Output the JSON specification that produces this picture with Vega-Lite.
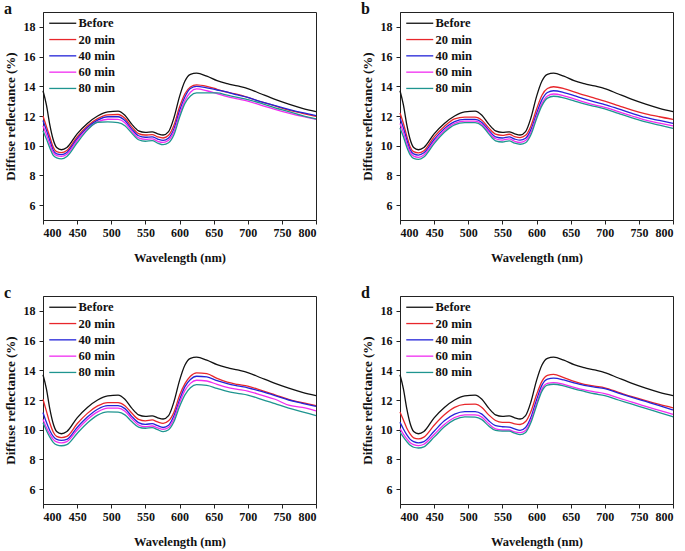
{
"$schema": "https://vega.github.io/schema/vega-lite/v6.json",
"padding": {"left": 3, "top": 0, "right": 2, "bottom": 2},
"background": "white",
"data": {"values": [
{"p":"a","w":400,"Before":13.7,"20 min":12.0,"40 min":11.7,"60 min":11.35,"80 min":11.0},
{"p":"a","w":405,"Before":12.75,"20 min":11.3,"40 min":11.05,"60 min":10.75,"80 min":10.45},
{"p":"a","w":410,"Before":11.4,"20 min":10.6,"40 min":10.35,"60 min":10.1,"80 min":9.85},
{"p":"a","w":415,"Before":10.4,"20 min":9.9,"40 min":9.7,"60 min":9.55,"80 min":9.35},
{"p":"a","w":420,"Before":9.88,"20 min":9.6,"40 min":9.45,"60 min":9.33,"80 min":9.18},
{"p":"a","w":427,"Before":9.73,"20 min":9.53,"40 min":9.4,"60 min":9.28,"80 min":9.12},
{"p":"a","w":435,"Before":9.88,"20 min":9.68,"40 min":9.55,"60 min":9.43,"80 min":9.28},
{"p":"a","w":450,"Before":10.8,"20 min":10.6,"40 min":10.47,"60 min":10.35,"80 min":10.2},
{"p":"a","w":465,"Before":11.5,"20 min":11.32,"40 min":11.22,"60 min":11.12,"80 min":11.05},
{"p":"a","w":480,"Before":12.0,"20 min":11.82,"40 min":11.72,"60 min":11.6,"80 min":11.58},
{"p":"a","w":495,"Before":12.28,"20 min":12.08,"40 min":11.95,"60 min":11.78,"80 min":11.6},
{"p":"a","w":510,"Before":12.33,"20 min":12.1,"40 min":11.95,"60 min":11.77,"80 min":11.55},
{"p":"a","w":520,"Before":12.05,"20 min":11.85,"40 min":11.7,"60 min":11.55,"80 min":11.35},
{"p":"a","w":530,"Before":11.45,"20 min":11.27,"40 min":11.12,"60 min":10.98,"80 min":10.85},
{"p":"a","w":540,"Before":11.0,"20 min":10.82,"40 min":10.67,"60 min":10.53,"80 min":10.4},
{"p":"a","w":550,"Before":10.9,"20 min":10.72,"40 min":10.57,"60 min":10.43,"80 min":10.3},
{"p":"a","w":560,"Before":10.93,"20 min":10.75,"40 min":10.6,"60 min":10.46,"80 min":10.34},
{"p":"a","w":568,"Before":10.8,"20 min":10.6,"40 min":10.45,"60 min":10.3,"80 min":10.18},
{"p":"a","w":576,"Before":10.72,"20 min":10.52,"40 min":10.36,"60 min":10.22,"80 min":10.07},
{"p":"a","w":584,"Before":10.95,"20 min":10.7,"40 min":10.52,"60 min":10.37,"80 min":10.2},
{"p":"a","w":592,"Before":11.9,"20 min":11.4,"40 min":11.15,"60 min":10.95,"80 min":10.75},
{"p":"a","w":600,"Before":13.3,"20 min":12.6,"40 min":12.35,"60 min":12.1,"80 min":11.9},
{"p":"a","w":608,"Before":14.35,"20 min":13.5,"40 min":13.3,"60 min":13.05,"80 min":12.85},
{"p":"a","w":616,"Before":14.8,"20 min":13.95,"40 min":13.85,"60 min":13.6,"80 min":13.35},
{"p":"a","w":625,"Before":14.88,"20 min":14.1,"40 min":14.0,"60 min":13.82,"80 min":13.55},
{"p":"a","w":640,"Before":14.68,"20 min":14.0,"40 min":13.9,"60 min":13.7,"80 min":13.55},
{"p":"a","w":655,"Before":14.38,"20 min":13.8,"40 min":13.75,"60 min":13.5,"80 min":13.55},
{"p":"a","w":670,"Before":14.18,"20 min":13.6,"40 min":13.6,"60 min":13.3,"80 min":13.4},
{"p":"a","w":685,"Before":14.02,"20 min":13.45,"40 min":13.42,"60 min":13.15,"80 min":13.25},
{"p":"a","w":700,"Before":13.85,"20 min":13.25,"40 min":13.25,"60 min":13.0,"80 min":13.1},
{"p":"a","w":720,"Before":13.48,"20 min":12.95,"40 min":12.95,"60 min":12.72,"80 min":12.85},
{"p":"a","w":740,"Before":13.12,"20 min":12.68,"40 min":12.7,"60 min":12.45,"80 min":12.55},
{"p":"a","w":760,"Before":12.8,"20 min":12.4,"40 min":12.45,"60 min":12.2,"80 min":12.3},
{"p":"a","w":780,"Before":12.52,"20 min":12.18,"40 min":12.22,"60 min":11.97,"80 min":12.02},
{"p":"a","w":800,"Before":12.3,"20 min":11.97,"40 min":12.02,"60 min":11.77,"80 min":11.8},
{"p":"b","w":400,"Before":13.7,"20 min":12.2,"40 min":11.85,"60 min":11.5,"80 min":11.2},
{"p":"b","w":405,"Before":12.75,"20 min":11.5,"40 min":11.2,"60 min":10.9,"80 min":10.6},
{"p":"b","w":410,"Before":11.4,"20 min":10.65,"40 min":10.4,"60 min":10.15,"80 min":9.9},
{"p":"b","w":415,"Before":10.4,"20 min":9.92,"40 min":9.72,"60 min":9.55,"80 min":9.38},
{"p":"b","w":420,"Before":9.88,"20 min":9.6,"40 min":9.45,"60 min":9.3,"80 min":9.15},
{"p":"b","w":427,"Before":9.73,"20 min":9.52,"40 min":9.37,"60 min":9.22,"80 min":9.08},
{"p":"b","w":435,"Before":9.88,"20 min":9.66,"40 min":9.52,"60 min":9.38,"80 min":9.24},
{"p":"b","w":450,"Before":10.8,"20 min":10.6,"40 min":10.42,"60 min":10.28,"80 min":10.14},
{"p":"b","w":465,"Before":11.5,"20 min":11.3,"40 min":11.15,"60 min":11.02,"80 min":10.9},
{"p":"b","w":480,"Before":12.0,"20 min":11.8,"40 min":11.62,"60 min":11.5,"80 min":11.4},
{"p":"b","w":495,"Before":12.28,"20 min":11.93,"40 min":11.77,"60 min":11.65,"80 min":11.55},
{"p":"b","w":510,"Before":12.33,"20 min":11.93,"40 min":11.77,"60 min":11.65,"80 min":11.55},
{"p":"b","w":520,"Before":12.05,"20 min":11.72,"40 min":11.57,"60 min":11.45,"80 min":11.35},
{"p":"b","w":530,"Before":11.45,"20 min":11.2,"40 min":11.05,"60 min":10.93,"80 min":10.8},
{"p":"b","w":540,"Before":11.0,"20 min":10.78,"40 min":10.6,"60 min":10.47,"80 min":10.33},
{"p":"b","w":550,"Before":10.9,"20 min":10.7,"40 min":10.52,"60 min":10.38,"80 min":10.25},
{"p":"b","w":560,"Before":10.93,"20 min":10.77,"40 min":10.59,"60 min":10.46,"80 min":10.32},
{"p":"b","w":568,"Before":10.8,"20 min":10.62,"40 min":10.45,"60 min":10.3,"80 min":10.17},
{"p":"b","w":576,"Before":10.72,"20 min":10.55,"40 min":10.37,"60 min":10.22,"80 min":10.1},
{"p":"b","w":584,"Before":10.95,"20 min":10.7,"40 min":10.5,"60 min":10.35,"80 min":10.2},
{"p":"b","w":592,"Before":11.9,"20 min":11.35,"40 min":11.1,"60 min":10.9,"80 min":10.75},
{"p":"b","w":600,"Before":13.3,"20 min":12.45,"40 min":12.15,"60 min":11.95,"80 min":11.8},
{"p":"b","w":608,"Before":14.35,"20 min":13.4,"40 min":13.1,"60 min":12.85,"80 min":12.7},
{"p":"b","w":616,"Before":14.8,"20 min":13.85,"40 min":13.58,"60 min":13.35,"80 min":13.2},
{"p":"b","w":625,"Before":14.88,"20 min":13.97,"40 min":13.7,"60 min":13.48,"80 min":13.33},
{"p":"b","w":640,"Before":14.68,"20 min":13.85,"40 min":13.58,"60 min":13.36,"80 min":13.22},
{"p":"b","w":655,"Before":14.38,"20 min":13.62,"40 min":13.37,"60 min":13.15,"80 min":13.02},
{"p":"b","w":670,"Before":14.18,"20 min":13.4,"40 min":13.15,"60 min":12.93,"80 min":12.82},
{"p":"b","w":685,"Before":14.02,"20 min":13.2,"40 min":12.95,"60 min":12.75,"80 min":12.65},
{"p":"b","w":700,"Before":13.85,"20 min":13.0,"40 min":12.77,"60 min":12.58,"80 min":12.48},
{"p":"b","w":720,"Before":13.48,"20 min":12.7,"40 min":12.48,"60 min":12.3,"80 min":12.18},
{"p":"b","w":740,"Before":13.12,"20 min":12.4,"40 min":12.18,"60 min":12.0,"80 min":11.88},
{"p":"b","w":760,"Before":12.8,"20 min":12.15,"40 min":11.9,"60 min":11.72,"80 min":11.6},
{"p":"b","w":780,"Before":12.52,"20 min":11.95,"40 min":11.7,"60 min":11.52,"80 min":11.38},
{"p":"b","w":800,"Before":12.3,"20 min":11.77,"40 min":11.5,"60 min":11.33,"80 min":11.17},
{"p":"c","w":400,"Before":13.7,"20 min":12.05,"40 min":11.15,"60 min":10.7,"80 min":10.47},
{"p":"c","w":405,"Before":12.75,"20 min":11.25,"40 min":10.5,"60 min":10.15,"80 min":9.95},
{"p":"c","w":410,"Before":11.4,"20 min":10.45,"40 min":9.95,"60 min":9.7,"80 min":9.5},
{"p":"c","w":415,"Before":10.4,"20 min":9.85,"40 min":9.55,"60 min":9.35,"80 min":9.15},
{"p":"c","w":420,"Before":9.88,"20 min":9.55,"40 min":9.35,"60 min":9.18,"80 min":8.98},
{"p":"c","w":427,"Before":9.73,"20 min":9.47,"40 min":9.28,"60 min":9.12,"80 min":8.92},
{"p":"c","w":435,"Before":9.88,"20 min":9.55,"40 min":9.35,"60 min":9.2,"80 min":9.0},
{"p":"c","w":450,"Before":10.8,"20 min":10.4,"40 min":10.15,"60 min":9.98,"80 min":9.75},
{"p":"c","w":465,"Before":11.5,"20 min":11.1,"40 min":10.85,"60 min":10.68,"80 min":10.45},
{"p":"c","w":480,"Before":12.0,"20 min":11.6,"40 min":11.38,"60 min":11.2,"80 min":10.98},
{"p":"c","w":495,"Before":12.28,"20 min":11.83,"40 min":11.62,"60 min":11.45,"80 min":11.2},
{"p":"c","w":510,"Before":12.33,"20 min":11.83,"40 min":11.62,"60 min":11.45,"80 min":11.18},
{"p":"c","w":520,"Before":12.05,"20 min":11.62,"40 min":11.42,"60 min":11.25,"80 min":11.0},
{"p":"c","w":530,"Before":11.45,"20 min":11.12,"40 min":10.9,"60 min":10.75,"80 min":10.55},
{"p":"c","w":540,"Before":11.0,"20 min":10.7,"40 min":10.48,"60 min":10.32,"80 min":10.18},
{"p":"c","w":550,"Before":10.9,"20 min":10.6,"40 min":10.36,"60 min":10.2,"80 min":10.1},
{"p":"c","w":560,"Before":10.93,"20 min":10.66,"40 min":10.41,"60 min":10.25,"80 min":10.14},
{"p":"c","w":568,"Before":10.8,"20 min":10.52,"40 min":10.27,"60 min":10.12,"80 min":10.0},
{"p":"c","w":576,"Before":10.72,"20 min":10.43,"40 min":10.15,"60 min":10.02,"80 min":9.87},
{"p":"c","w":584,"Before":10.95,"20 min":10.6,"40 min":10.3,"60 min":10.15,"80 min":10.0},
{"p":"c","w":592,"Before":11.9,"20 min":11.2,"40 min":10.95,"60 min":10.75,"80 min":10.55},
{"p":"c","w":600,"Before":13.3,"20 min":12.3,"40 min":12.0,"60 min":11.8,"80 min":11.55},
{"p":"c","w":608,"Before":14.35,"20 min":13.1,"40 min":12.9,"60 min":12.65,"80 min":12.35},
{"p":"c","w":616,"Before":14.8,"20 min":13.6,"40 min":13.38,"60 min":13.12,"80 min":12.82},
{"p":"c","w":625,"Before":14.88,"20 min":13.83,"40 min":13.6,"60 min":13.33,"80 min":13.03},
{"p":"c","w":640,"Before":14.68,"20 min":13.78,"40 min":13.55,"60 min":13.28,"80 min":12.98},
{"p":"c","w":655,"Before":14.38,"20 min":13.45,"40 min":13.3,"60 min":13.05,"80 min":12.78},
{"p":"c","w":670,"Before":14.18,"20 min":13.2,"40 min":13.1,"60 min":12.85,"80 min":12.58},
{"p":"c","w":685,"Before":14.02,"20 min":13.05,"40 min":12.95,"60 min":12.72,"80 min":12.45},
{"p":"c","w":700,"Before":13.85,"20 min":12.93,"40 min":12.82,"60 min":12.6,"80 min":12.33},
{"p":"c","w":720,"Before":13.48,"20 min":12.65,"40 min":12.58,"60 min":12.33,"80 min":12.05},
{"p":"c","w":740,"Before":13.12,"20 min":12.35,"40 min":12.3,"60 min":12.05,"80 min":11.75},
{"p":"c","w":760,"Before":12.8,"20 min":12.05,"40 min":12.0,"60 min":11.65,"80 min":11.45},
{"p":"c","w":780,"Before":12.52,"20 min":11.82,"40 min":11.78,"60 min":11.5,"80 min":11.2},
{"p":"c","w":800,"Before":12.3,"20 min":11.62,"40 min":11.57,"60 min":11.27,"80 min":10.95},
{"p":"d","w":400,"Before":13.7,"20 min":11.2,"40 min":10.5,"60 min":10.07,"80 min":9.84},
{"p":"d","w":405,"Before":12.75,"20 min":10.65,"40 min":10.05,"60 min":9.7,"80 min":9.5},
{"p":"d","w":410,"Before":11.4,"20 min":10.1,"40 min":9.65,"60 min":9.38,"80 min":9.2},
{"p":"d","w":415,"Before":10.4,"20 min":9.7,"40 min":9.35,"60 min":9.13,"80 min":8.95},
{"p":"d","w":420,"Before":9.88,"20 min":9.45,"40 min":9.2,"60 min":9.0,"80 min":8.82},
{"p":"d","w":427,"Before":9.73,"20 min":9.38,"40 min":9.12,"60 min":8.93,"80 min":8.77},
{"p":"d","w":435,"Before":9.88,"20 min":9.5,"40 min":9.2,"60 min":9.02,"80 min":8.85},
{"p":"d","w":450,"Before":10.8,"20 min":10.3,"40 min":9.9,"60 min":9.68,"80 min":9.5},
{"p":"d","w":465,"Before":11.5,"20 min":11.0,"40 min":10.6,"60 min":10.35,"80 min":10.2},
{"p":"d","w":480,"Before":12.0,"20 min":11.5,"40 min":11.05,"60 min":10.82,"80 min":10.68},
{"p":"d","w":495,"Before":12.28,"20 min":11.7,"40 min":11.22,"60 min":11.0,"80 min":10.87},
{"p":"d","w":510,"Before":12.33,"20 min":11.72,"40 min":11.22,"60 min":11.0,"80 min":10.85},
{"p":"d","w":520,"Before":12.05,"20 min":11.5,"40 min":11.05,"60 min":10.85,"80 min":10.68},
{"p":"d","w":530,"Before":11.45,"20 min":11.0,"40 min":10.6,"60 min":10.4,"80 min":10.25},
{"p":"d","w":540,"Before":11.0,"20 min":10.62,"40 min":10.27,"60 min":10.05,"80 min":9.95},
{"p":"d","w":550,"Before":10.9,"20 min":10.5,"40 min":10.2,"60 min":9.98,"80 min":9.9},
{"p":"d","w":560,"Before":10.93,"20 min":10.5,"40 min":10.18,"60 min":9.98,"80 min":9.9},
{"p":"d","w":568,"Before":10.8,"20 min":10.4,"40 min":10.05,"60 min":9.85,"80 min":9.77},
{"p":"d","w":576,"Before":10.72,"20 min":10.35,"40 min":9.96,"60 min":9.8,"80 min":9.67},
{"p":"d","w":584,"Before":10.95,"20 min":10.55,"40 min":10.15,"60 min":9.95,"80 min":9.82},
{"p":"d","w":592,"Before":11.9,"20 min":11.25,"40 min":10.85,"60 min":10.65,"80 min":10.5},
{"p":"d","w":600,"Before":13.3,"20 min":12.35,"40 min":12.0,"60 min":11.75,"80 min":11.6},
{"p":"d","w":608,"Before":14.35,"20 min":13.25,"40 min":13.0,"60 min":12.75,"80 min":12.6},
{"p":"d","w":616,"Before":14.8,"20 min":13.65,"40 min":13.4,"60 min":13.12,"80 min":13.0},
{"p":"d","w":625,"Before":14.88,"20 min":13.72,"40 min":13.47,"60 min":13.17,"80 min":13.06},
{"p":"d","w":640,"Before":14.68,"20 min":13.5,"40 min":13.35,"60 min":13.05,"80 min":12.95},
{"p":"d","w":655,"Before":14.38,"20 min":13.25,"40 min":13.15,"60 min":12.85,"80 min":12.75},
{"p":"d","w":670,"Before":14.18,"20 min":13.05,"40 min":12.98,"60 min":12.68,"80 min":12.58},
{"p":"d","w":685,"Before":14.02,"20 min":12.93,"40 min":12.87,"60 min":12.55,"80 min":12.42},
{"p":"d","w":700,"Before":13.85,"20 min":12.82,"40 min":12.77,"60 min":12.43,"80 min":12.29},
{"p":"d","w":720,"Before":13.48,"20 min":12.52,"40 min":12.47,"60 min":12.15,"80 min":12.0},
{"p":"d","w":740,"Before":13.12,"20 min":12.22,"40 min":12.18,"60 min":11.85,"80 min":11.72},
{"p":"d","w":760,"Before":12.8,"20 min":11.95,"40 min":11.9,"60 min":11.57,"80 min":11.43},
{"p":"d","w":780,"Before":12.52,"20 min":11.7,"40 min":11.62,"60 min":11.3,"80 min":11.15},
{"p":"d","w":800,"Before":12.3,"20 min":11.47,"40 min":11.33,"60 min":11.03,"80 min":10.87}
]},
"transform": [{"fold": ["Before", "20 min", "40 min", "60 min", "80 min"], "as": ["s", "r"]}],
"columns": 2,
"spacing": {"row": 20, "column": 40},
"resolve": {"scale": {"color": "independent"}, "legend": {"color": "independent"}},
"concat": [
{"width": 273, "height": 208, "title": "a", "transform": [{"filter": "datum.p == 'a'"}],
 "mark": {"type": "line", "interpolate": "monotone", "strokeWidth": 1.3},
 "encoding": {
  "x": {"field": "w", "type": "quantitative", "scale": {"domain": [400, 800], "nice": false}, "axis": {"values": [400,450,500,550,600,650,700,750,800], "title": "Wavelength (nm)"}},
  "y": {"field": "r", "type": "quantitative", "scale": {"domain": [5, 19], "nice": false, "zero": false}, "axis": {"values": [6,8,10,12,14,16,18], "title": "Diffuse reflectance (%)"}},
  "color": {"field": "s", "type": "nominal", "scale": {"domain": ["Before","20 min","40 min","60 min","80 min"], "range": ["#111111","#e8262b","#2323d8","#f02cf0","#1f9590"]}, "legend": {"title": null}}
 }},
{"width": 273, "height": 208, "title": "b", "transform": [{"filter": "datum.p == 'b'"}],
 "mark": {"type": "line", "interpolate": "monotone", "strokeWidth": 1.3},
 "encoding": {
  "x": {"field": "w", "type": "quantitative", "scale": {"domain": [400, 800], "nice": false}, "axis": {"values": [400,450,500,550,600,650,700,750,800], "title": "Wavelength (nm)"}},
  "y": {"field": "r", "type": "quantitative", "scale": {"domain": [5, 19], "nice": false, "zero": false}, "axis": {"values": [6,8,10,12,14,16,18], "title": "Diffuse reflectance (%)"}},
  "color": {"field": "s", "type": "nominal", "scale": {"domain": ["Before","20 min","40 min","60 min","80 min"], "range": ["#111111","#e8262b","#2323d8","#f02cf0","#1f9590"]}, "legend": {"title": null}}
 }},
{"width": 273, "height": 208, "title": "c", "transform": [{"filter": "datum.p == 'c'"}],
 "mark": {"type": "line", "interpolate": "monotone", "strokeWidth": 1.3},
 "encoding": {
  "x": {"field": "w", "type": "quantitative", "scale": {"domain": [400, 800], "nice": false}, "axis": {"values": [400,450,500,550,600,650,700,750,800], "title": "Wavelength (nm)"}},
  "y": {"field": "r", "type": "quantitative", "scale": {"domain": [5, 19], "nice": false, "zero": false}, "axis": {"values": [6,8,10,12,14,16,18], "title": "Diffuse reflectance (%)"}},
  "color": {"field": "s", "type": "nominal", "scale": {"domain": ["Before","20 min","40 min","60 min","80 min"], "range": ["#111111","#e8262b","#2323d8","#f02cf0","#1f9590"]}, "legend": {"title": null}}
 }},
{"width": 273, "height": 208, "title": "d", "transform": [{"filter": "datum.p == 'd'"}],
 "mark": {"type": "line", "interpolate": "monotone", "strokeWidth": 1.3},
 "encoding": {
  "x": {"field": "w", "type": "quantitative", "scale": {"domain": [400, 800], "nice": false}, "axis": {"values": [400,450,500,550,600,650,700,750,800], "title": "Wavelength (nm)"}},
  "y": {"field": "r", "type": "quantitative", "scale": {"domain": [5, 19], "nice": false, "zero": false}, "axis": {"values": [6,8,10,12,14,16,18], "title": "Diffuse reflectance (%)"}},
  "color": {"field": "s", "type": "nominal", "scale": {"domain": ["Before","20 min","40 min","60 min","80 min"], "range": ["#111111","#e8262b","#2323d8","#f02cf0","#1f9590"]}, "legend": {"title": null}}
 }}
],
"config": {
 "font": "Liberation Serif",
 "view": {"stroke": "#222222", "strokeWidth": 1},
 "axis": {"grid": false, "domainColor": "#222222", "tickColor": "#222222", "tickSize": 4, "labelFont": "Liberation Serif", "labelFontSize": 12, "labelFontWeight": "bold", "labelColor": "#111111", "titleFont": "Liberation Serif", "titleFontWeight": "bold", "titleColor": "#111111"},
 "axisX": {"titleFontSize": 12.5, "titlePadding": 13, "labelPadding": 3},
 "axisY": {"titleFontSize": 13, "titlePadding": 6, "labelPadding": 4},
 "legend": {"orient": "none", "legendX": 5, "legendY": 5, "padding": 0, "labelFont": "Liberation Serif", "labelFontSize": 12.5, "labelFontWeight": "bold", "labelColor": "#111111", "symbolType": "M-1,0H4.4", "symbolSize": 100, "symbolStrokeWidth": 1.3, "labelOffset": 18, "rowPadding": 3.3},
 "title": {"font": "Liberation Serif", "fontSize": 16, "fontWeight": "bold", "color": "#111111", "anchor": "start", "frame": "bounds", "offset": -5}
}
}
